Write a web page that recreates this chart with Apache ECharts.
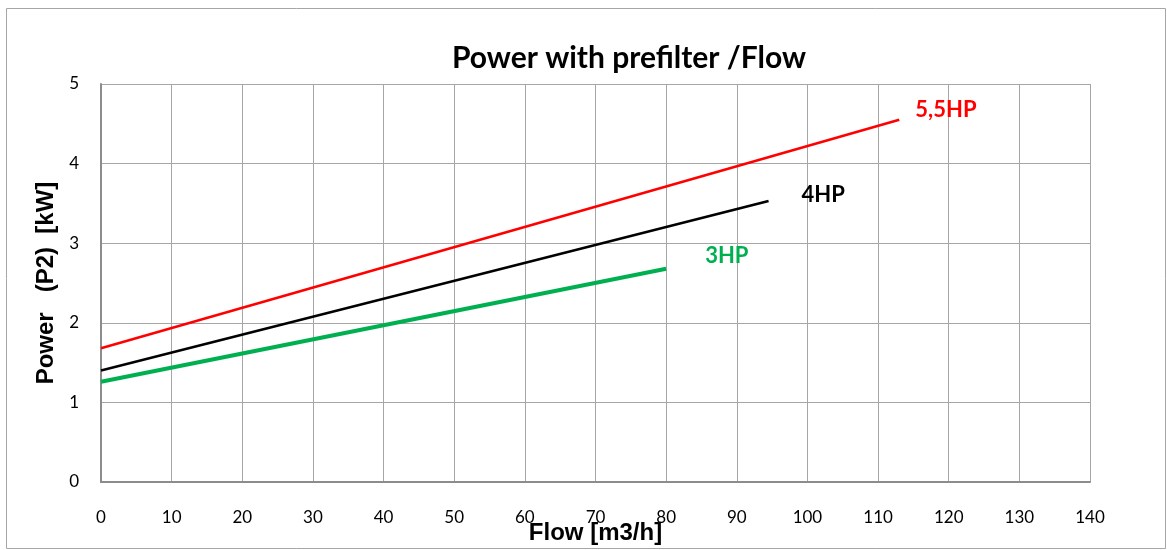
<!DOCTYPE html>
<html>
<head>
<meta charset="utf-8">
<script src="https://cdn.jsdelivr.net/npm/echarts@6/dist/echarts.min.js"></script>
<style>
  html, body { margin: 0; padding: 0; background: #fff; }
  #chart { width: 1167px; height: 550px; }
</style>
</head>
<body>
<div id="chart"></div>
<script>
// Power (P2) against flow for three pump sizes fitted with a prefilter
const flow55 = [0, 113];
const power55 = [1.68, 4.55];
const flow4 = [0, 94.5];
const power4 = [1.40, 3.53];
const flow3 = [0, 80];
const power3 = [1.26, 2.68];

const seriesNames = ['5,5HP', '4HP', '3HP'];
const seriesColors = ['#ff0000', '#000000', '#00b050'];

const xTicks = { min: 0, max: 140, step: 10 };
const yTicks = { min: 0, max: 5, step: 1 };

const pairs = (xs, ys) => xs.map((x, i) => [x, ys[i]]);

const chart = echarts.init(document.getElementById('chart'), null, { renderer: 'canvas' });

const labelFont = { fontFamily: 'Lato, "Open Sans", sans-serif', fontWeight: 'bold', fontSize: 22 };

chart.setOption({
  animation: false,
  backgroundColor: '#fff',
  graphic: [{
    type: 'rect',
    shape: { x: 6.5, y: 8.5, width: 1159, height: 540 },
    style: { fill: 'none', stroke: '#a6a6a6', lineWidth: 1 },
    silent: true
  }],
  title: {
    text: 'Power with prefilter /Flow',
    left: 624, top: 38, textAlign: 'center',
    textStyle: { fontFamily: 'Lato, "Open Sans", sans-serif', fontWeight: 'bold', fontSize: 30, color: '#000' }
  },
  grid: { left: 101, top: 84, right: 77, bottom: 68, outerBoundsMode: 'none', containLabel: false },
  xAxis: {
    type: 'value',
    min: xTicks.min, max: xTicks.max, interval: xTicks.step,
    name: 'Flow [m3/h]',
    nameLocation: 'middle', nameGap: 39, nameMoveOverlap: false,
    nameTextStyle: { fontFamily: '"Liberation Sans", Arial, sans-serif', fontWeight: 'bold', fontSize: 24, color: '#000' },
    axisLine: { show: true, onZero: false, lineStyle: { color: '#8c8c8c', width: 2 } },
    axisTick: { show: false },
    axisLabel: { margin: 27, fontFamily: 'Lato, "Open Sans", sans-serif', fontSize: 17, color: '#000' },
    splitLine: { show: true, lineStyle: { color: '#a6a6a6', width: 1 } }
  },
  yAxis: {
    type: 'value',
    min: yTicks.min, max: yTicks.max, interval: yTicks.step,
    name: 'Power   (P2)  [kW]',
    nameLocation: 'middle', nameGap: 43, nameRotate: 90, nameMoveOverlap: false,
    nameTextStyle: { fontFamily: '"Liberation Sans", Arial, sans-serif', fontWeight: 'bold', fontSize: 24, color: '#000' },
    axisLine: { show: true, lineStyle: { color: '#8c8c8c', width: 2 } },
    axisTick: { show: false },
    axisLabel: { margin: 22, fontFamily: 'Lato, "Open Sans", sans-serif', fontSize: 17, color: '#000' },
    splitLine: { show: true, lineStyle: { color: '#a6a6a6', width: 1 } }
  },
  series: [
    {
      name: seriesNames[0], type: 'line', data: pairs(flow55, power55),
      symbol: 'none', lineStyle: { color: seriesColors[0], width: 2.5 },
      endLabel: { show: true, formatter: seriesNames[0], offset: [8, -10], color: seriesColors[0], ...labelFont }
    },
    {
      name: seriesNames[1], type: 'line', data: pairs(flow4, power4),
      symbol: 'none', lineStyle: { color: seriesColors[1], width: 2.5 },
      endLabel: { show: true, formatter: seriesNames[1], offset: [25, -6], color: seriesColors[1], ...labelFont }
    },
    {
      name: seriesNames[2], type: 'line', data: pairs(flow3, power3),
      symbol: 'none', lineStyle: { color: seriesColors[2], width: 4 },
      endLabel: { show: true, formatter: seriesNames[2], offset: [31, -13], color: seriesColors[2], ...labelFont }
    }
  ]
});
</script>
</body>
</html>
